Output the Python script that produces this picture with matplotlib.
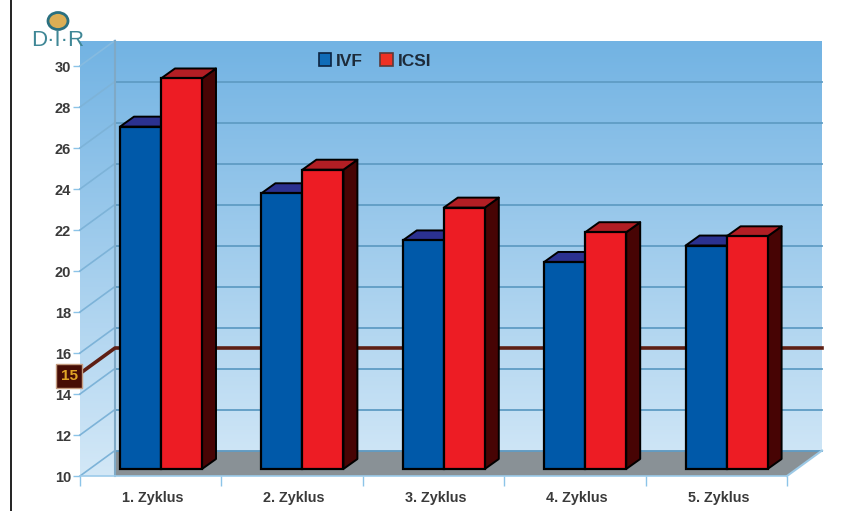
import numpy as np
import matplotlib
matplotlib.use("Agg")
import matplotlib.pyplot as plt
from matplotlib.patches import Polygon, Ellipse, Patch

plt.rcParams['font.family'] = ['Liberation Sans', 'DejaVu Sans']

# Chart data
cycles = ["1. Zyklus", "2. Zyklus", "3. Zyklus", "4. Zyklus", "5. Zyklus"]
ivf = [26.7, 23.45, 21.15, 20.1, 20.9]
icsi = [29.05, 24.6, 22.75, 21.55, 21.35]
reference_level = 15
y_ticks = list(range(10, 31, 2))
series_names = ["IVF", "ICSI"]

W, H = 846, 511
fig = plt.figure(figsize=(W / 100, H / 100), dpi=100, facecolor="white")
ax = fig.add_axes([80 / W, (H - 476) / H, 707 / W, 410 / H])
ax.patch.set_visible(False)
for s in ax.spines.values():
    s.set_visible(False)

# Pixel scale of the axes, used to express the oblique depth in data units
px_x = len(cycles) / 707
px_y = 20 / 410
depth_x, depth_y = 35 * px_x, 25.5 * px_y
n = len(cycles)

# Walls with a vertical gradient, clipped to the wall outline
wall_outline = [(0, 30 + depth_y), (n + depth_x, 30 + depth_y), (n + depth_x, 10 + depth_y),
                (depth_x, 10 + depth_y), (depth_x, 10), (0, 10)]
wall = Polygon(wall_outline, closed=True, fc="none", ec="none", clip_on=False)
ax.add_patch(wall)
gradient = np.linspace(0, 1, 256)[:, None, None]
top_col = np.array([0x72, 0xb3, 0xe3]) / 255
bot_col = np.array([0xd3, 0xe8, 0xf7]) / 255
img = top_col + (bot_col - top_col) * gradient
im = ax.imshow(img, extent=(0, n + depth_x, 10, 30 + depth_y), origin="upper",
               aspect="auto", zorder=1)
im.set_clip_box(fig.bbox)
im.set_clip_path(wall)
ax.set_xlim(0, n)
ax.set_ylim(10, 30)

# Floor
floor = Polygon([(depth_x, 10 + depth_y), (n + depth_x, 10 + depth_y), (n, 10), (depth_x, 10)],
                closed=True, fc="#899196", ec="none", zorder=2, clip_on=False)
ax.add_patch(floor)

# Grid on the back wall and the lighter diagonals on the side wall
grid_col = "#5f9cc4"
side_col = "#7db3d8"
for v in y_ticks[:-1]:
    ax.plot([0, depth_x], [v, v + depth_y], color=side_col, lw=1.2, zorder=3, clip_on=False)
    ax.plot([depth_x, n + depth_x], [v + depth_y, v + depth_y], color=grid_col,
            lw=1.3, zorder=3, clip_on=False)
ax.plot([0, depth_x], [30, 30 + depth_y], color="#86bbe0", lw=1.2, zorder=3, clip_on=False)
ax.plot([depth_x, depth_x], [10, 30 + depth_y], color="#7fa9c6", lw=1.5, zorder=3, clip_on=False)
ax.plot([n, n + depth_x], [10, 10 + depth_y], color="#9cc9e6", lw=1.5, zorder=3, clip_on=False)
ax.plot([0, n], [10, 10], color="#9ccbea", lw=1.2, zorder=3, clip_on=False)

# Reference level running along the side wall and the back wall
ax.plot([0, depth_x, n + depth_x],
        [reference_level, reference_level + depth_y, reference_level + depth_y],
        color="#5e1f14", lw=2.6, zorder=4, clip_on=False)
ax.text(-11 * px_x, reference_level - 2.5 * px_y, str(reference_level), ha="center", va="center",
        fontsize=11, fontweight="bold", color="#e0a526", zorder=20, clip_on=False,
        bbox=dict(boxstyle="square,pad=0.32", fc="#470d05", ec="#c49c80", lw=1))

# Oblique bars: front face placed part-way into the depth of the chart
bar_w = 41 * px_x
inset_x, inset_y = 10.3 * px_x, 7 * px_y
bar_dx, bar_dy = 14 * px_x, 10 * px_y
centers = np.arange(n) + 0.5


def draw_bar(x_left, value, front, top, side, z):
    x0, x1 = x_left, x_left + bar_w
    y0, y1 = 10 + inset_y, value + inset_y
    ax.add_patch(Polygon([(x1, y0), (x1 + bar_dx, y0 + bar_dy), (x1 + bar_dx, y1 + bar_dy), (x1, y1)],
                         closed=True, fc=side, ec="black", lw=1.4, zorder=z, clip_on=False,
                         joinstyle="round"))
    ax.add_patch(Polygon([(x0, y1), (x0 + bar_dx, y1 + bar_dy), (x1 + bar_dx, y1 + bar_dy), (x1, y1)],
                         closed=True, fc=top, ec="black", lw=1.4, zorder=z, clip_on=False,
                         joinstyle="round"))
    ax.bar(x0, value - 10, width=bar_w, bottom=y0, align="edge", color=front, edgecolor="black",
           lw=1.6, zorder=z + 0.1, clip_on=False)


for i, c in enumerate(centers):
    base = c + inset_x
    draw_bar(base - bar_w, ivf[i], "#0059a9", "#2b3190", "#2b3190", 5 + i)
    draw_bar(base, icsi[i], "#ed1c24", "#b21e24", "#470404", 5.3 + i)

# Axes ticks and labels
ax.set_yticks(y_ticks)
ax.set_xticks(np.arange(n + 1))
ax.set_xticklabels([])
ax.set_xticks(centers + 2 * px_x, labels=cycles, minor=True)
ax.tick_params(axis="y", length=5, width=1, color="#8cc4e8", pad=1.5, labelsize=10.5,
               labelcolor="#3a3a3a")
ax.tick_params(axis="x", which="major", length=7, width=1, color="#8cc4e8", labelbottom=False)
ax.tick_params(axis="x", which="minor", length=0, pad=10.5, labelsize=10.4, labelcolor="#3a3a3a")
for lab in ax.get_yticklabels() + ax.get_xticklabels(minor=True):
    lab.set_fontweight("bold")

# Legend
handles = [Patch(fc="#0f6cb8", ec="#0c2340", lw=1.2), Patch(fc="#ee3124", ec="#5a3a3a", lw=1.2)]
fig.legend(handles, series_names, ncol=2, frameon=False, loc="center",
           bbox_to_anchor=(375 / W, 1 - 61 / H), handlelength=0.7, handleheight=0.8,
           handletextpad=0.3, columnspacing=1.0, borderpad=0,
           prop=dict(weight="bold", size=12.5), labelcolor="#1d2b3a")

# Logo above the value axis
fig.add_artist(Ellipse((58 / W, 1 - 21 / H), 20 / W, 17 / H, fc="#dcae55", ec="#2a7080", lw=2,
                       transform=fig.transFigure))
fig.text(58 / W, 1 - 41 / H, "D·I·R", ha="center", va="center", fontsize=16, color="#3f8796")

# Left edge rule of the page
fig.add_artist(plt.Line2D([11 / W, 11 / W], [0, 1], color="#222222", lw=1.4, transform=fig.transFigure))

fig.savefig("out.png", dpi=100, facecolor="white")
